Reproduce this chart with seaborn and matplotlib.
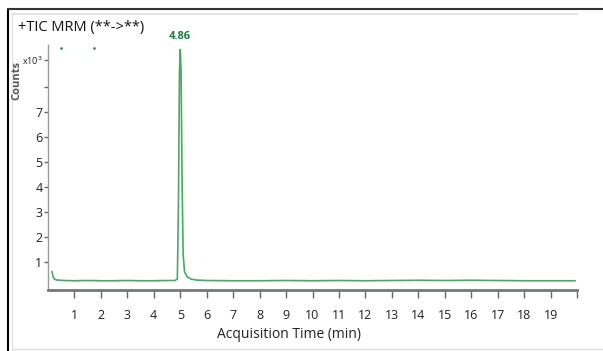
import numpy as np
import pandas as pd
import matplotlib
matplotlib.use("Agg")
import matplotlib.pyplot as plt
import seaborn as sns
from matplotlib.lines import Line2D
from matplotlib import font_manager

# chromatogram trace (time in min, counts x10^3)
times = [0.15, 0.19, 0.24, 0.32, 0.6, 1.0, 1.5, 2.0, 2.5, 3.0, 3.5, 4.0, 4.5, 4.8,
         4.89, 4.93, 4.97, 5.0, 5.03, 5.07, 5.11, 5.16, 5.25, 5.4, 5.6, 6.0,
         7.0, 8.0, 9.0, 10.0, 11.0, 12.0, 13.0, 14.0, 15.0, 16.0, 17.0, 18.0, 19.0, 19.93]
counts = [0.62, 0.42, 0.32, 0.28, 0.26, 0.25, 0.26, 0.25, 0.25, 0.26, 0.25, 0.25, 0.26, 0.26,
          0.32, 3.2, 8.6, 9.5, 8.7, 4.1, 1.3, 0.62, 0.42, 0.32, 0.28, 0.26,
          0.25, 0.25, 0.26, 0.25, 0.26, 0.25, 0.26, 0.27, 0.26, 0.27, 0.26, 0.25, 0.25, 0.25]
peak_time = 5.0
peak_label = "4.86"
peak_height = 9.5
marker_times = [0.49, 1.74]
marker_counts = [9.56, 9.56]

x_ticks = list(range(1, 21))
x_tick_labels = [str(i) for i in range(1, 20)] + [""]
y_ticks = [1, 2, 3, 4, 5, 6, 7, 8, 9.08]
y_tick_labels = ["1", "2", "3", "4", "5", "6", "7", "", "x10$^3$"]

title = "+TIC MRM (**->**)"

sns.set_theme(style="white")
names = {f.name for f in font_manager.fontManager.ttflist}
fam = [n for n in ["Liberation Sans Narrow", "Open Sans", "DejaVu Sans"] if n in names]
plt.rcParams["font.family"] = fam
plt.rcParams["mathtext.fontset"] = "dejavusans"

W, H = 603, 351
fig = plt.figure(figsize=(W / 100, H / 100), dpi=100)
ax = fig.add_axes([48 / W, 1 - 290 / H, (577 - 48) / W, (290 - 45) / H])

df = pd.DataFrame({"time": times, "counts": counts})
sns.lineplot(data=df, x="time", y="counts", ax=ax, color="#4aa862", linewidth=1.2)
ax.scatter(marker_times, marker_counts, s=0.8, color="#2a8a4a", zorder=3)
ax.text(peak_time, peak_height + 0.3, peak_label, color="#1e7b3c", ha="center", va="bottom",
        fontsize=8, fontweight="bold")

ax.set_xlim(0, 20)
ax.set_ylim(-0.12, 9.68)
ax.set_xticks(x_ticks)
ax.set_xticklabels(x_tick_labels)
ax.set_yticks(y_ticks)
ax.set_yticklabels(y_tick_labels)
ax.tick_params(axis="x", direction="out", length=6, width=1, color="#666666", labelsize=9,
               labelcolor="#222222", pad=8, bottom=True)
ax.tick_params(axis="y", direction="out", length=3, width=1, color="#666666", labelsize=9,
               labelcolor="#222222", pad=1, left=True)
ax.get_yticklabels()[-1].set_fontsize(6.5)
for s in ["top", "right"]:
    ax.spines[s].set_visible(False)
ax.spines["bottom"].set_color("#777777")
ax.spines["bottom"].set_linewidth(2)
ax.spines["left"].set_color("#999999")
ax.spines["left"].set_linewidth(1)
ax.set_ylabel("")
ax.set_xlabel("Acquisition Time (min)", fontsize=10, color="#222222")
ax.xaxis.set_label_coords((289 - 48) / (577 - 48), -0.15)

fig.text(18 / W, 1 - 28 / H, title, fontsize=10.5, color="#111111", va="center", ha="left")
fig.text(17 / W, 1 - 80 / H, "Counts", rotation=90, fontsize=8, fontweight="bold",
         color="#555555", ha="center", va="center")

# frame lines
fig.add_artist(Line2D([8 / W, 8 / W], [0, 1 - 9 / H], color="black", lw=1.5))
fig.add_artist(Line2D([8 / W, 1], [1 - 9 / H, 1 - 9 / H], color="#333333", lw=1.5))
fig.add_artist(Line2D([12 / W, 577 / W], [1 - 14 / H, 1 - 14 / H], color="#e3e3e3", lw=1.5))
fig.add_artist(Line2D([12 / W, 12 / W], [0, 1 - 14 / H], color="#e3e3e3", lw=1))
fig.add_artist(Line2D([12 / W, 1], [1 - 349 / H, 1 - 349 / H], color="#dddddd", lw=1))

fig.savefig("out.png", dpi=100)
